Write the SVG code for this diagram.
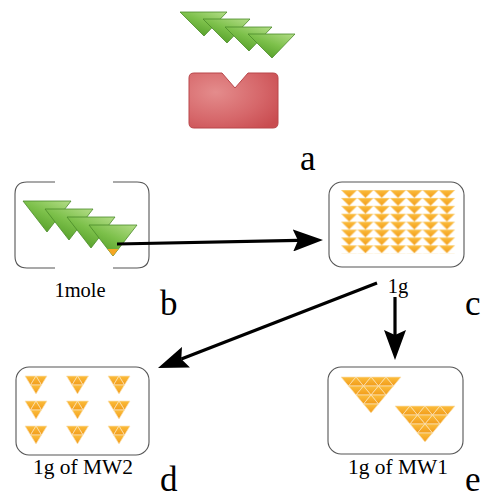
<svg xmlns="http://www.w3.org/2000/svg" xmlns:xlink="http://www.w3.org/1999/xlink" width="485" height="498" viewBox="0 0 485 498">
  <style>
    .box { fill: #ffffff; stroke: #555555; stroke-width: 1.1; }
    .bracket { fill: none; stroke: #555555; stroke-width: 1.1; }
    .gtri { fill: url(#green); stroke: #4a8a28; stroke-width: 0.8; stroke-linejoin: round; }
    .otri { fill: url(#orange); stroke: #fbe3b8; stroke-width: 0.7; stroke-linejoin: round; }
    .conn { fill: none; stroke: #000000; stroke-width: 3.2; }
    .letter { font-family: "Liberation Serif", "Times New Roman", serif; font-size: 35px; fill: #000000; }
    .label { font-family: "Liberation Serif", "Times New Roman", serif; font-size: 20.5px; fill: #000000; }
  </style>
  <defs>
    <linearGradient id="green" x1="1" y1="0" x2="0.25" y2="1">
      <stop offset="0" stop-color="#b4dd88"/>
      <stop offset="0.5" stop-color="#7cc04a"/>
      <stop offset="1" stop-color="#4f9a24"/>
    </linearGradient>
    <linearGradient id="orange" x1="0" y1="0" x2="0" y2="1">
      <stop offset="0" stop-color="#fbbd3c"/>
      <stop offset="1" stop-color="#f29c1a"/>
    </linearGradient>
    <radialGradient id="red" cx="0.3" cy="0.35" r="0.85">
      <stop offset="0" stop-color="#e48c8c"/>
      <stop offset="0.6" stop-color="#d6676a"/>
      <stop offset="1" stop-color="#c94c50"/>
    </radialGradient>
    <marker id="head" markerUnits="userSpaceOnUse" viewBox="0 0 30 22" refX="5" refY="11" markerWidth="30" markerHeight="22" orient="auto">
      <path d="M0,0 L30,11 L0,22 L5,11 z" fill="#000000"/>
    </marker>
    <!-- flat green wedge (top row) -->
    <path id="wedgeA" class="gtri" d="M0,0 L47,0 L24,24 z"/>
    <!-- taller green wedge (inside box b) -->
    <path id="wedgeB" class="gtri" d="M0,0 L48,0 L24,31 z"/>
    <!-- row of the packed grid -->
    <pattern id="packed" patternUnits="userSpaceOnUse" x="341" y="190" width="16.3" height="7.9">
      <polygon class="otri" points="0,0 16.3,0 8.15,7.9"/>
    </pattern>
    <!-- small cluster: triangle split in four -->
    <g id="small">
      <polygon class="otri" points="0,0 11,0 5.5,9"/>
      <polygon class="otri" points="11,0 22,0 16.5,9"/>
      <polygon class="otri" points="11,0 5.5,9 16.5,9"/>
      <polygon class="otri" points="5.5,9 16.5,9 11,18"/>
    </g>
    <!-- large cluster: triangle split in sixteen -->
    <g id="large">
      <polygon class="otri" points="0,0 15,0 7.5,9"/>
      <polygon class="otri" points="15,0 30,0 22.5,9"/>
      <polygon class="otri" points="30,0 45,0 37.5,9"/>
      <polygon class="otri" points="45,0 60,0 52.5,9"/>
      <polygon class="otri" points="15,0 7.5,9 22.5,9"/>
      <polygon class="otri" points="30,0 22.5,9 37.5,9"/>
      <polygon class="otri" points="45,0 37.5,9 52.5,9"/>
      <polygon class="otri" points="7.5,9 22.5,9 15,18"/>
      <polygon class="otri" points="22.5,9 37.5,9 30,18"/>
      <polygon class="otri" points="37.5,9 52.5,9 45,18"/>
      <polygon class="otri" points="22.5,9 15,18 30,18"/>
      <polygon class="otri" points="37.5,9 30,18 45,18"/>
      <polygon class="otri" points="15,18 30,18 22.5,27"/>
      <polygon class="otri" points="30,18 45,18 37.5,27"/>
      <polygon class="otri" points="30,18 22.5,27 37.5,27"/>
      <polygon class="otri" points="22.5,27 37.5,27 30,36"/>
    </g>
  </defs>

  <rect width="485" height="498" fill="#ffffff"/>

  <!-- a: molecule chain above the binding site -->
  <g id="node-a">
    <use xlink:href="#wedgeA" x="180" y="12"/>
    <use xlink:href="#wedgeA" x="203" y="19"/>
    <use xlink:href="#wedgeA" x="225" y="27"/>
    <use xlink:href="#wedgeA" x="248" y="34"/>
    <path d="M194,73 H222 L235,88 L248,73 H273 Q278,73 278,78 V123 Q278,128 273,128 H194 Q189,128 189,123 V78 Q189,73 194,73 z" fill="url(#red)" stroke="#b9474b" stroke-width="1"/>
    <text class="letter" x="300" y="170">a</text>
  </g>

  <!-- b: one mole -->
  <g id="node-b">
    <path class="bracket" d="M55,182 H27 Q15,182 15,194 V256 Q15,268 27,268 H55"/>
    <path class="bracket" d="M113,182 H137 Q149,182 149,194 V256 Q149,268 137,268 H113"/>
    <use xlink:href="#wedgeB" x="23" y="201"/>
    <use xlink:href="#wedgeB" x="45" y="209"/>
    <use xlink:href="#wedgeB" x="67" y="217"/>
    <use xlink:href="#wedgeB" x="89" y="225"/>
    <polygon points="107.5,249 118.5,249 113,256" fill="#f5a623"/>
    <text class="label" x="80" y="297" text-anchor="middle">1mole</text>
    <text class="letter" x="160" y="315">b</text>
  </g>

  <!-- c: one gram -->
  <g id="node-c">
    <rect class="box" x="329" y="182" width="135" height="85" rx="13"/>
    <rect x="341" y="190" width="114.1" height="63.2" fill="url(#packed)"/>
    <text class="label" x="398" y="293" text-anchor="middle">1g</text>
    <text class="letter" x="465" y="315">c</text>
  </g>

  <!-- d: one gram of MW2 -->
  <g id="node-d">
    <rect class="box" x="16" y="367" width="133" height="88" rx="13"/>
    <use xlink:href="#small" x="25" y="376"/>
    <use xlink:href="#small" x="66.5" y="376"/>
    <use xlink:href="#small" x="108" y="376"/>
    <use xlink:href="#small" x="25" y="401"/>
    <use xlink:href="#small" x="66.5" y="401"/>
    <use xlink:href="#small" x="108" y="401"/>
    <use xlink:href="#small" x="25" y="426"/>
    <use xlink:href="#small" x="66.5" y="426"/>
    <use xlink:href="#small" x="108" y="426"/>
    <text class="label" x="83" y="474" text-anchor="middle" textLength="100" lengthAdjust="spacingAndGlyphs">1g of MW2</text>
    <text class="letter" x="160" y="491">d</text>
  </g>

  <!-- e: one gram of MW1 -->
  <g id="node-e">
    <rect class="box" x="328" y="367" width="135" height="87" rx="13"/>
    <use xlink:href="#large" x="341" y="377"/>
    <use xlink:href="#large" x="395" y="406"/>
    <text class="label" x="398" y="474" text-anchor="middle" textLength="100" lengthAdjust="spacingAndGlyphs">1g of MW1</text>
    <text class="letter" x="465" y="491">e</text>
  </g>

  <!-- connectors -->
  <g id="connectors">
    <path class="conn" d="M117,244 L298,240.4" marker-end="url(#head)"/>
    <path class="conn" d="M377,283 L181.3,359" marker-end="url(#head)"/>
    <path class="conn" d="M395,297 L395,335" marker-end="url(#head)"/>
  </g>
</svg>
